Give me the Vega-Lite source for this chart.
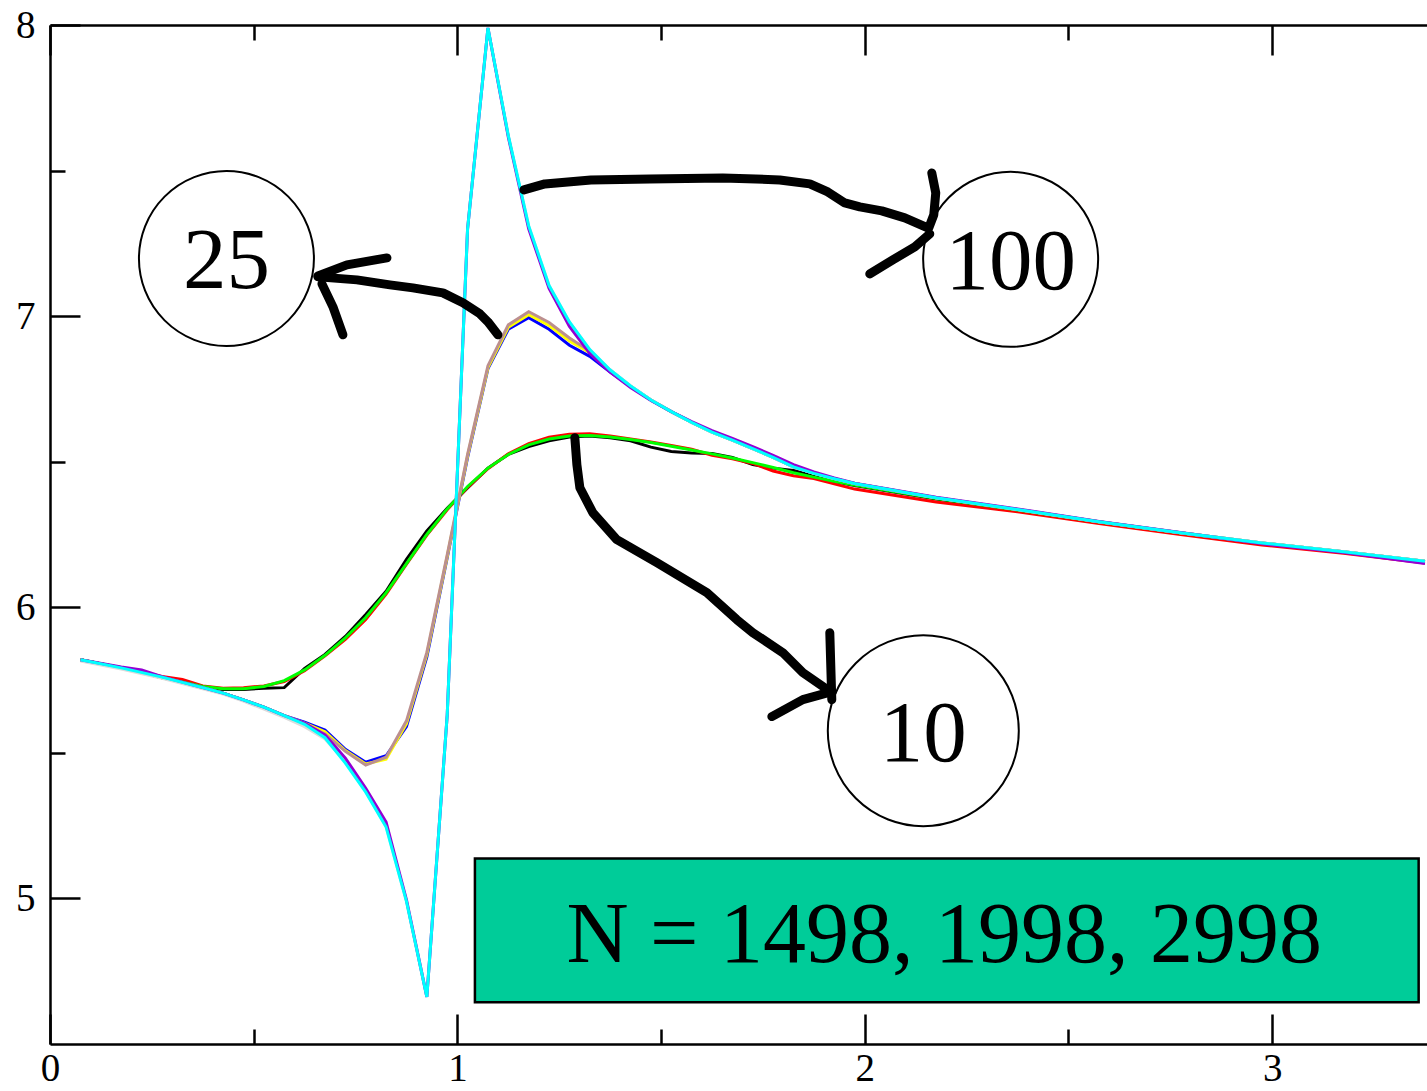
{
  "$schema": "https://vega.github.io/schema/vega-lite/v6.json",
  "width": 1377,
  "height": 1019,
  "autosize": {"type": "none"},
  "padding": {"left": 50, "top": 25, "right": 0, "bottom": 47},
  "background": "white",
  "config": {
    "view": {"stroke": null},
    "axis": {"domainColor": "black", "tickColor": "black", "labelColor": "black", "labelFont": "Liberation Serif", "labelFontSize": 39, "grid": false, "domainWidth": 2.5, "tickWidth": 2.5, "labelFlush": false, "labelOverlap": false, "labelBound": false}
  },
  "datasets": {
    "curves": [
      {"s":"010-1498","x":0.075,"y":5.82},{"s":"010-1498","x":0.175,"y":5.792},{"s":"010-1498","x":0.275,"y":5.758},{"s":"010-1498","x":0.375,"y":5.727},{"s":"010-1498","x":0.425,"y":5.718},{"s":"010-1498","x":0.475,"y":5.718},{"s":"010-1498","x":0.525,"y":5.722},{"s":"010-1498","x":0.575,"y":5.724},{"s":"010-1498","x":0.625,"y":5.79},{"s":"010-1498","x":0.675,"y":5.838},{"s":"010-1498","x":0.725,"y":5.9},{"s":"010-1498","x":0.775,"y":5.975},{"s":"010-1498","x":0.825,"y":6.055},{"s":"010-1498","x":0.875,"y":6.165},{"s":"010-1498","x":0.925,"y":6.262},{"s":"010-1498","x":0.975,"y":6.34},{"s":"010-1498","x":1.025,"y":6.41},{"s":"010-1498","x":1.075,"y":6.478},{"s":"010-1498","x":1.125,"y":6.525},{"s":"010-1498","x":1.175,"y":6.552},{"s":"010-1498","x":1.225,"y":6.572},{"s":"010-1498","x":1.275,"y":6.585},{"s":"010-1498","x":1.325,"y":6.588},{"s":"010-1498","x":1.375,"y":6.582},{"s":"010-1498","x":1.425,"y":6.572},{"s":"010-1498","x":1.475,"y":6.55},{"s":"010-1498","x":1.525,"y":6.535},{"s":"010-1498","x":1.575,"y":6.53},{"s":"010-1498","x":1.625,"y":6.528},{"s":"010-1498","x":1.675,"y":6.515},{"s":"010-1498","x":1.725,"y":6.49},{"s":"010-1498","x":1.775,"y":6.478},{"s":"010-1498","x":1.825,"y":6.47},{"s":"010-1498","x":1.875,"y":6.45},{"s":"010-1498","x":1.925,"y":6.432},{"s":"010-1498","x":1.975,"y":6.418},{"s":"010-1498","x":2.175,"y":6.372},{"s":"010-1498","x":2.375,"y":6.333},{"s":"010-1498","x":2.575,"y":6.292},{"s":"010-1498","x":2.775,"y":6.254},{"s":"010-1498","x":2.975,"y":6.219},{"s":"010-1498","x":3.175,"y":6.19},{"s":"010-1498","x":3.375,"y":6.156},

      {"s":"010-1998","x":0.075,"y":5.82},{"s":"010-1998","x":0.175,"y":5.792},{"s":"010-1998","x":0.275,"y":5.762},{"s":"010-1998","x":0.325,"y":5.752},{"s":"010-1998","x":0.375,"y":5.73},{"s":"010-1998","x":0.425,"y":5.722},{"s":"010-1998","x":0.475,"y":5.724},{"s":"010-1998","x":0.525,"y":5.73},{"s":"010-1998","x":0.575,"y":5.745},{"s":"010-1998","x":0.625,"y":5.782},{"s":"010-1998","x":0.675,"y":5.833},{"s":"010-1998","x":0.725,"y":5.89},{"s":"010-1998","x":0.775,"y":5.958},{"s":"010-1998","x":0.825,"y":6.045},{"s":"010-1998","x":0.875,"y":6.148},{"s":"010-1998","x":0.925,"y":6.248},{"s":"010-1998","x":0.975,"y":6.335},{"s":"010-1998","x":1.025,"y":6.412},{"s":"010-1998","x":1.075,"y":6.476},{"s":"010-1998","x":1.125,"y":6.527},{"s":"010-1998","x":1.175,"y":6.562},{"s":"010-1998","x":1.225,"y":6.584},{"s":"010-1998","x":1.275,"y":6.594},{"s":"010-1998","x":1.325,"y":6.596},{"s":"010-1998","x":1.375,"y":6.588},{"s":"010-1998","x":1.425,"y":6.578},{"s":"010-1998","x":1.475,"y":6.568},{"s":"010-1998","x":1.525,"y":6.556},{"s":"010-1998","x":1.575,"y":6.543},{"s":"010-1998","x":1.625,"y":6.522},{"s":"010-1998","x":1.675,"y":6.51},{"s":"010-1998","x":1.725,"y":6.494},{"s":"010-1998","x":1.775,"y":6.468},{"s":"010-1998","x":1.825,"y":6.452},{"s":"010-1998","x":1.875,"y":6.442},{"s":"010-1998","x":1.925,"y":6.424},{"s":"010-1998","x":1.975,"y":6.406},{"s":"010-1998","x":2.175,"y":6.362},{"s":"010-1998","x":2.375,"y":6.328},{"s":"010-1998","x":2.575,"y":6.288},{"s":"010-1998","x":2.775,"y":6.25},{"s":"010-1998","x":2.975,"y":6.214},{"s":"010-1998","x":3.175,"y":6.186},{"s":"010-1998","x":3.375,"y":6.152},

      {"s":"010-2998","x":0.075,"y":5.82},{"s":"010-2998","x":0.175,"y":5.792},{"s":"010-2998","x":0.275,"y":5.758},{"s":"010-2998","x":0.375,"y":5.728},{"s":"010-2998","x":0.425,"y":5.72},{"s":"010-2998","x":0.475,"y":5.72},{"s":"010-2998","x":0.525,"y":5.728},{"s":"010-2998","x":0.575,"y":5.748},{"s":"010-2998","x":0.625,"y":5.785},{"s":"010-2998","x":0.675,"y":5.835},{"s":"010-2998","x":0.725,"y":5.895},{"s":"010-2998","x":0.775,"y":5.965},{"s":"010-2998","x":0.825,"y":6.05},{"s":"010-2998","x":0.875,"y":6.15},{"s":"010-2998","x":0.925,"y":6.25},{"s":"010-2998","x":0.975,"y":6.338},{"s":"010-2998","x":1.025,"y":6.415},{"s":"010-2998","x":1.075,"y":6.478},{"s":"010-2998","x":1.125,"y":6.525},{"s":"010-2998","x":1.175,"y":6.558},{"s":"010-2998","x":1.225,"y":6.578},{"s":"010-2998","x":1.275,"y":6.588},{"s":"010-2998","x":1.325,"y":6.59},{"s":"010-2998","x":1.375,"y":6.585},{"s":"010-2998","x":1.425,"y":6.576},{"s":"010-2998","x":1.475,"y":6.566},{"s":"010-2998","x":1.525,"y":6.553},{"s":"010-2998","x":1.575,"y":6.54},{"s":"010-2998","x":1.625,"y":6.527},{"s":"010-2998","x":1.675,"y":6.513},{"s":"010-2998","x":1.725,"y":6.497},{"s":"010-2998","x":1.775,"y":6.48},{"s":"010-2998","x":1.825,"y":6.462},{"s":"010-2998","x":1.875,"y":6.447},{"s":"010-2998","x":1.925,"y":6.433},{"s":"010-2998","x":1.975,"y":6.42},{"s":"010-2998","x":2.175,"y":6.374},{"s":"010-2998","x":2.375,"y":6.334},{"s":"010-2998","x":2.575,"y":6.293},{"s":"010-2998","x":2.775,"y":6.255},{"s":"010-2998","x":2.975,"y":6.22},{"s":"010-2998","x":3.175,"y":6.19},{"s":"010-2998","x":3.375,"y":6.157},

      {"s":"025-1498","x":0.075,"y":5.82},{"s":"025-1498","x":0.175,"y":5.792},{"s":"025-1498","x":0.275,"y":5.76},{"s":"025-1498","x":0.375,"y":5.724},{"s":"025-1498","x":0.425,"y":5.705},{"s":"025-1498","x":0.475,"y":5.682},{"s":"025-1498","x":0.525,"y":5.657},{"s":"025-1498","x":0.575,"y":5.628},{"s":"025-1498","x":0.625,"y":5.605},{"s":"025-1498","x":0.675,"y":5.578},{"s":"025-1498","x":0.725,"y":5.512},{"s":"025-1498","x":0.775,"y":5.468},{"s":"025-1498","x":0.825,"y":5.49},{"s":"025-1498","x":0.875,"y":5.59},{"s":"025-1498","x":0.925,"y":5.83},{"s":"025-1498","x":0.975,"y":6.17},{"s":"025-1498","x":1.025,"y":6.515},{"s":"025-1498","x":1.075,"y":6.82},{"s":"025-1498","x":1.125,"y":6.955},{"s":"025-1498","x":1.175,"y":6.995},{"s":"025-1498","x":1.225,"y":6.955},{"s":"025-1498","x":1.275,"y":6.9},{"s":"025-1498","x":1.325,"y":6.862},{"s":"025-1498","x":1.375,"y":6.808},{"s":"025-1498","x":1.425,"y":6.758},{"s":"025-1498","x":1.475,"y":6.712},{"s":"025-1498","x":1.525,"y":6.672},{"s":"025-1498","x":1.575,"y":6.635},{"s":"025-1498","x":1.625,"y":6.602},{"s":"025-1498","x":1.675,"y":6.574},{"s":"025-1498","x":1.725,"y":6.545},{"s":"025-1498","x":1.775,"y":6.515},{"s":"025-1498","x":1.825,"y":6.482},{"s":"025-1498","x":1.875,"y":6.46},{"s":"025-1498","x":1.925,"y":6.442},{"s":"025-1498","x":1.975,"y":6.425},{"s":"025-1498","x":2.175,"y":6.376},{"s":"025-1498","x":2.375,"y":6.336},{"s":"025-1498","x":2.575,"y":6.294},{"s":"025-1498","x":2.775,"y":6.256},{"s":"025-1498","x":2.975,"y":6.221},{"s":"025-1498","x":3.175,"y":6.191},{"s":"025-1498","x":3.375,"y":6.158},

      {"s":"025-1998","x":0.075,"y":5.82},{"s":"025-1998","x":0.175,"y":5.792},{"s":"025-1998","x":0.275,"y":5.76},{"s":"025-1998","x":0.375,"y":5.724},{"s":"025-1998","x":0.425,"y":5.705},{"s":"025-1998","x":0.475,"y":5.682},{"s":"025-1998","x":0.525,"y":5.657},{"s":"025-1998","x":0.575,"y":5.628},{"s":"025-1998","x":0.625,"y":5.602},{"s":"025-1998","x":0.675,"y":5.572},{"s":"025-1998","x":0.725,"y":5.508},{"s":"025-1998","x":0.775,"y":5.462},{"s":"025-1998","x":0.825,"y":5.478},{"s":"025-1998","x":0.875,"y":5.6},{"s":"025-1998","x":0.925,"y":5.838},{"s":"025-1998","x":0.975,"y":6.175},{"s":"025-1998","x":1.025,"y":6.52},{"s":"025-1998","x":1.075,"y":6.823},{"s":"025-1998","x":1.125,"y":6.962},{"s":"025-1998","x":1.175,"y":7.005},{"s":"025-1998","x":1.225,"y":6.968},{"s":"025-1998","x":1.275,"y":6.915},{"s":"025-1998","x":1.325,"y":6.874},{"s":"025-1998","x":1.375,"y":6.812},{"s":"025-1998","x":1.425,"y":6.758},{"s":"025-1998","x":1.475,"y":6.712},{"s":"025-1998","x":1.525,"y":6.672},{"s":"025-1998","x":1.575,"y":6.635},{"s":"025-1998","x":1.625,"y":6.602},{"s":"025-1998","x":1.675,"y":6.574},{"s":"025-1998","x":1.725,"y":6.545},{"s":"025-1998","x":1.775,"y":6.515},{"s":"025-1998","x":1.825,"y":6.482},{"s":"025-1998","x":1.875,"y":6.46},{"s":"025-1998","x":1.925,"y":6.442},{"s":"025-1998","x":1.975,"y":6.425},{"s":"025-1998","x":2.175,"y":6.376},{"s":"025-1998","x":2.375,"y":6.336},{"s":"025-1998","x":2.575,"y":6.294},{"s":"025-1998","x":2.775,"y":6.256},{"s":"025-1998","x":2.975,"y":6.221},{"s":"025-1998","x":3.175,"y":6.191},{"s":"025-1998","x":3.375,"y":6.158},

      {"s":"025-2998","x":0.075,"y":5.82},{"s":"025-2998","x":0.175,"y":5.792},{"s":"025-2998","x":0.275,"y":5.76},{"s":"025-2998","x":0.375,"y":5.724},{"s":"025-2998","x":0.425,"y":5.705},{"s":"025-2998","x":0.475,"y":5.682},{"s":"025-2998","x":0.525,"y":5.657},{"s":"025-2998","x":0.575,"y":5.628},{"s":"025-2998","x":0.625,"y":5.598},{"s":"025-2998","x":0.675,"y":5.565},{"s":"025-2998","x":0.725,"y":5.505},{"s":"025-2998","x":0.775,"y":5.458},{"s":"025-2998","x":0.825,"y":5.485},{"s":"025-2998","x":0.875,"y":5.61},{"s":"025-2998","x":0.925,"y":5.845},{"s":"025-2998","x":0.975,"y":6.18},{"s":"025-2998","x":1.025,"y":6.525},{"s":"025-2998","x":1.075,"y":6.83},{"s":"025-2998","x":1.125,"y":6.97},{"s":"025-2998","x":1.175,"y":7.015},{"s":"025-2998","x":1.225,"y":6.978},{"s":"025-2998","x":1.275,"y":6.925},{"s":"025-2998","x":1.325,"y":6.88},{"s":"025-2998","x":1.375,"y":6.815},{"s":"025-2998","x":1.425,"y":6.76},{"s":"025-2998","x":1.475,"y":6.712},{"s":"025-2998","x":1.525,"y":6.672},{"s":"025-2998","x":1.575,"y":6.635},{"s":"025-2998","x":1.625,"y":6.602},{"s":"025-2998","x":1.675,"y":6.574},{"s":"025-2998","x":1.725,"y":6.545},{"s":"025-2998","x":1.775,"y":6.515},{"s":"025-2998","x":1.825,"y":6.482},{"s":"025-2998","x":1.875,"y":6.46},{"s":"025-2998","x":1.925,"y":6.442},{"s":"025-2998","x":1.975,"y":6.425},{"s":"025-2998","x":2.175,"y":6.376},{"s":"025-2998","x":2.375,"y":6.336},{"s":"025-2998","x":2.575,"y":6.294},{"s":"025-2998","x":2.775,"y":6.256},{"s":"025-2998","x":2.975,"y":6.221},{"s":"025-2998","x":3.175,"y":6.191},{"s":"025-2998","x":3.375,"y":6.158},

      {"s":"100-1498","x":0.075,"y":5.815},{"s":"100-1498","x":0.175,"y":5.788},{"s":"100-1498","x":0.275,"y":5.756},{"s":"100-1498","x":0.375,"y":5.72},{"s":"100-1498","x":0.425,"y":5.702},{"s":"100-1498","x":0.475,"y":5.678},{"s":"100-1498","x":0.525,"y":5.65},{"s":"100-1498","x":0.575,"y":5.622},{"s":"100-1498","x":0.625,"y":5.59},{"s":"100-1498","x":0.675,"y":5.548},{"s":"100-1498","x":0.725,"y":5.47},{"s":"100-1498","x":0.775,"y":5.368},{"s":"100-1498","x":0.825,"y":5.248},{"s":"100-1498","x":0.875,"y":4.99},{"s":"100-1498","x":0.925,"y":4.662},{"s":"100-1498","x":0.975,"y":5.63},{"s":"100-1498","x":1.025,"y":7.3},{"s":"100-1498","x":1.075,"y":7.99},{"s":"100-1498","x":1.125,"y":7.62},{"s":"100-1498","x":1.175,"y":7.31},{"s":"100-1498","x":1.225,"y":7.105},{"s":"100-1498","x":1.275,"y":6.98},{"s":"100-1498","x":1.325,"y":6.885},{"s":"100-1498","x":1.375,"y":6.815},{"s":"100-1498","x":1.425,"y":6.76},{"s":"100-1498","x":1.475,"y":6.712},{"s":"100-1498","x":1.525,"y":6.672},{"s":"100-1498","x":1.575,"y":6.635},{"s":"100-1498","x":1.625,"y":6.602},{"s":"100-1498","x":1.675,"y":6.574},{"s":"100-1498","x":1.725,"y":6.545},{"s":"100-1498","x":1.775,"y":6.515},{"s":"100-1498","x":1.825,"y":6.482},{"s":"100-1498","x":1.875,"y":6.46},{"s":"100-1498","x":1.925,"y":6.442},{"s":"100-1498","x":1.975,"y":6.425},{"s":"100-1498","x":2.175,"y":6.376},{"s":"100-1498","x":2.375,"y":6.336},{"s":"100-1498","x":2.575,"y":6.294},{"s":"100-1498","x":2.775,"y":6.256},{"s":"100-1498","x":2.975,"y":6.221},{"s":"100-1498","x":3.175,"y":6.191},{"s":"100-1498","x":3.375,"y":6.158},

      {"s":"100-1998","x":0.075,"y":5.82},{"s":"100-1998","x":0.175,"y":5.795},{"s":"100-1998","x":0.225,"y":5.785},{"s":"100-1998","x":0.275,"y":5.762},{"s":"100-1998","x":0.375,"y":5.724},{"s":"100-1998","x":0.425,"y":5.705},{"s":"100-1998","x":0.475,"y":5.682},{"s":"100-1998","x":0.525,"y":5.657},{"s":"100-1998","x":0.575,"y":5.628},{"s":"100-1998","x":0.625,"y":5.602},{"s":"100-1998","x":0.675,"y":5.562},{"s":"100-1998","x":0.725,"y":5.482},{"s":"100-1998","x":0.775,"y":5.378},{"s":"100-1998","x":0.825,"y":5.262},{"s":"100-1998","x":0.875,"y":4.995},{"s":"100-1998","x":0.925,"y":4.662},{"s":"100-1998","x":0.975,"y":5.63},{"s":"100-1998","x":1.025,"y":7.3},{"s":"100-1998","x":1.075,"y":7.99},{"s":"100-1998","x":1.125,"y":7.615},{"s":"100-1998","x":1.175,"y":7.3},{"s":"100-1998","x":1.225,"y":7.095},{"s":"100-1998","x":1.275,"y":6.965},{"s":"100-1998","x":1.325,"y":6.872},{"s":"100-1998","x":1.375,"y":6.808},{"s":"100-1998","x":1.425,"y":6.755},{"s":"100-1998","x":1.475,"y":6.71},{"s":"100-1998","x":1.525,"y":6.672},{"s":"100-1998","x":1.575,"y":6.638},{"s":"100-1998","x":1.625,"y":6.607},{"s":"100-1998","x":1.675,"y":6.58},{"s":"100-1998","x":1.725,"y":6.552},{"s":"100-1998","x":1.775,"y":6.522},{"s":"100-1998","x":1.825,"y":6.49},{"s":"100-1998","x":1.875,"y":6.465},{"s":"100-1998","x":1.925,"y":6.444},{"s":"100-1998","x":1.975,"y":6.426},{"s":"100-1998","x":2.175,"y":6.378},{"s":"100-1998","x":2.375,"y":6.338},{"s":"100-1998","x":2.575,"y":6.295},{"s":"100-1998","x":2.775,"y":6.257},{"s":"100-1998","x":2.975,"y":6.218},{"s":"100-1998","x":3.175,"y":6.188},{"s":"100-1998","x":3.375,"y":6.15},

      {"s":"100-2998","x":0.075,"y":5.82},{"s":"100-2998","x":0.175,"y":5.792},{"s":"100-2998","x":0.275,"y":5.76},{"s":"100-2998","x":0.375,"y":5.724},{"s":"100-2998","x":0.425,"y":5.705},{"s":"100-2998","x":0.475,"y":5.682},{"s":"100-2998","x":0.525,"y":5.657},{"s":"100-2998","x":0.575,"y":5.628},{"s":"100-2998","x":0.625,"y":5.598},{"s":"100-2998","x":0.675,"y":5.552},{"s":"100-2998","x":0.725,"y":5.465},{"s":"100-2998","x":0.775,"y":5.365},{"s":"100-2998","x":0.825,"y":5.245},{"s":"100-2998","x":0.875,"y":4.99},{"s":"100-2998","x":0.925,"y":4.662},{"s":"100-2998","x":0.975,"y":5.63},{"s":"100-2998","x":1.025,"y":7.3},{"s":"100-2998","x":1.075,"y":7.99},{"s":"100-2998","x":1.125,"y":7.62},{"s":"100-2998","x":1.175,"y":7.31},{"s":"100-2998","x":1.225,"y":7.105},{"s":"100-2998","x":1.275,"y":6.98},{"s":"100-2998","x":1.325,"y":6.885},{"s":"100-2998","x":1.375,"y":6.815},{"s":"100-2998","x":1.425,"y":6.76},{"s":"100-2998","x":1.475,"y":6.712},{"s":"100-2998","x":1.525,"y":6.672},{"s":"100-2998","x":1.575,"y":6.635},{"s":"100-2998","x":1.625,"y":6.602},{"s":"100-2998","x":1.675,"y":6.574},{"s":"100-2998","x":1.725,"y":6.545},{"s":"100-2998","x":1.775,"y":6.515},{"s":"100-2998","x":1.825,"y":6.482},{"s":"100-2998","x":1.875,"y":6.46},{"s":"100-2998","x":1.925,"y":6.442},{"s":"100-2998","x":1.975,"y":6.425},{"s":"100-2998","x":2.175,"y":6.376},{"s":"100-2998","x":2.375,"y":6.336},{"s":"100-2998","x":2.575,"y":6.294},{"s":"100-2998","x":2.775,"y":6.256},{"s":"100-2998","x":2.975,"y":6.221},{"s":"100-2998","x":3.175,"y":6.191},{"s":"100-2998","x":3.375,"y":6.158}
    ],
    "arrows": [
      {"a":"100","k":1,"x":1.1632,"y":7.4336},{"a":"100","k":2,"x":1.2147,"y":7.4542},{"a":"100","k":3,"x":1.3276,"y":7.4679},{"a":"100","k":4,"x":1.4724,"y":7.4713},{"a":"100","k":5,"x":1.6515,"y":7.4748},{"a":"100","k":6,"x":1.7914,"y":7.4679},{"a":"100","k":7,"x":1.865,"y":7.4542},{"a":"100","k":8,"x":1.9092,"y":7.4267},{"a":"100","k":9,"x":1.9509,"y":7.3889},{"a":"100","k":10,"x":1.9877,"y":7.3752},{"a":"100","k":11,"x":2.0417,"y":7.3615},{"a":"100","k":12,"x":2.0982,"y":7.3374},{"a":"100","k":13,"x":2.1546,"y":7.3031},
      {"a":"100h1","k":1,"x":2.1644,"y":7.4919},{"a":"100h1","k":2,"x":2.1742,"y":7.4233},{"a":"100h1","k":3,"x":2.1693,"y":7.3477},{"a":"100h1","k":4,"x":2.1571,"y":7.3031},
      {"a":"100h2","k":1,"x":2.1595,"y":7.2825},{"a":"100h2","k":2,"x":2.1227,"y":7.2379},{"a":"100h2","k":3,"x":2.0687,"y":7.1933},{"a":"100h2","k":4,"x":2.0123,"y":7.1452},
      {"a":"25","k":1,"x":1.0994,"y":6.9358},{"a":"25","k":2,"x":1.0748,"y":6.9804},{"a":"25","k":3,"x":1.0552,"y":7.0079},{"a":"25","k":4,"x":1.0135,"y":7.0457},{"a":"25","k":5,"x":0.9644,"y":7.08},{"a":"25","k":6,"x":0.8908,"y":7.0971},{"a":"25","k":7,"x":0.8344,"y":7.1074},{"a":"25","k":8,"x":0.7534,"y":7.1246},{"a":"25","k":9,"x":0.6577,"y":7.1349},
      {"a":"25h1","k":1,"x":0.6577,"y":7.1383},{"a":"25h1","k":2,"x":0.7288,"y":7.1761},{"a":"25h1","k":3,"x":0.827,"y":7.2001},
      {"a":"25h2","k":1,"x":0.6675,"y":7.1109},{"a":"25h2","k":2,"x":0.6945,"y":7.0319},{"a":"25h2","k":3,"x":0.719,"y":6.9358},
      {"a":"10","k":1,"x":1.2883,"y":6.5822},{"a":"10","k":2,"x":1.2933,"y":6.4895},{"a":"10","k":3,"x":1.3006,"y":6.4106},{"a":"10","k":4,"x":1.3325,"y":6.3247},{"a":"10","k":5,"x":1.3914,"y":6.2321},{"a":"10","k":6,"x":1.4896,"y":6.1531},{"a":"10","k":7,"x":1.6123,"y":6.0501},{"a":"10","k":8,"x":1.6859,"y":5.9574},{"a":"10","k":9,"x":1.7252,"y":5.9128},{"a":"10","k":10,"x":1.7988,"y":5.8442},{"a":"10","k":11,"x":1.8479,"y":5.7755},{"a":"10","k":12,"x":1.919,"y":5.7068},
      {"a":"10h1","k":1,"x":1.9141,"y":5.9128},{"a":"10h1","k":2,"x":1.919,"y":5.6828},
      {"a":"10h2","k":1,"x":1.919,"y":5.7103},{"a":"10h2","k":2,"x":1.8479,"y":5.6828},{"a":"10h2","k":3,"x":1.7718,"y":5.6245}
    ],
    "circles": [
      {"label":"25","x":0.4331,"y":7.198},
      {"label":"100","x":2.358,"y":7.195},
      {"label":"10","x":2.1436,"y":5.576}
    ],
    "box": [
      {"x1":1.043,"x2":3.3595,"y1":4.643,"y2":5.137}
    ],
    "boxtext": [
      {"label":"N = 1498, 1998, 2998","x":2.195,"y":4.87}
    ]
  },
  "resolve": {"axis": {"x": "independent", "y": "independent"}},
  "layer": [
    {
      "data": {"name": "box"},
      "mark": {"type": "rect", "fill": "#00cc99", "stroke": "black", "strokeWidth": 2.5},
      "encoding": {
        "x": {"field": "x1", "type": "quantitative", "scale": {"domain": [0, 3.38], "nice": false, "zero": false},
              "axis": {"orient": "bottom", "values": [0, 1, 2, 3], "ticks": false, "labelPadding": 5, "title": null, "domain": true}},
        "x2": {"field": "x2"},
        "y": {"field": "y1", "type": "quantitative", "scale": {"domain": [4.5, 8], "nice": false, "zero": false},
              "axis": {"orient": "left", "values": [5, 6, 7, 8], "ticks": false, "labelPadding": 15, "title": null, "domain": true}},
        "y2": {"field": "y2"}
      }
    },
    {
      "data": {"name": "curves"},
      "mark": {"type": "line", "strokeWidth": 3, "clip": true},
      "encoding": {
        "x": {"field": "x", "type": "quantitative", "scale": {"domain": [0, 3.38], "nice": false, "zero": false},
              "axis": {"orient": "bottom", "values": [0, 1, 2, 3], "labels": false, "domain": false, "tickSize": -30, "title": null}},
        "y": {"field": "y", "type": "quantitative", "scale": {"domain": [4.5, 8], "nice": false, "zero": false},
              "axis": {"orient": "left", "values": [5, 6, 7, 8], "labels": false, "domain": false, "tickSize": -30, "title": null}},
        "color": {"field": "s", "type": "nominal",
                  "scale": {"domain": ["010-1498","010-1998","010-2998","025-1498","025-1998","025-2998","100-1498","100-1998","100-2998"],
                            "range": ["#000000","#ff0000","#00ff00","#0000ff","#ffff00","#bc8f8f","#dcdcdc","#9400d3","#00ffff"]},
                  "legend": null}
      }
    },
    {
      "data": {"name": "circles"},
      "mark": {"type": "point", "shape": "circle", "filled": false, "color": "black", "strokeWidth": 2, "opacity": 1},
      "encoding": {
        "x": {"field": "x", "type": "quantitative", "scale": {"domain": [0, 3.38], "nice": false, "zero": false},
              "axis": {"orient": "top", "values": [0, 1, 2, 3], "labels": false, "domain": true, "tickSize": -30, "title": null}},
        "y": {"field": "y", "type": "quantitative", "scale": {"domain": [4.5, 8], "nice": false, "zero": false}, "axis": null},
        "size": {"field": "label", "type": "nominal", "scale": {"type": "ordinal", "domain": ["25", "100", "10"], "range": [30625, 30625, 36481]}, "legend": null}
      }
    },
    {
      "data": {"name": "arrows"},
      "mark": {"type": "line", "color": "black", "strokeWidth": 9, "strokeCap": "round", "strokeJoin": "round"},
      "encoding": {
        "x": {"field": "x", "type": "quantitative", "scale": {"domain": [0, 3.38], "nice": false, "zero": false},
              "axis": {"orient": "top", "values": [0.5, 1.5, 2.5], "labels": false, "domain": false, "tickSize": -15, "title": null}},
        "y": {"field": "y", "type": "quantitative", "scale": {"domain": [4.5, 8], "nice": false, "zero": false},
              "axis": {"orient": "left", "values": [5.5, 6.5, 7.5], "labels": false, "domain": false, "tickSize": -15, "title": null}},
        "detail": {"field": "a"},
        "order": {"field": "k", "type": "quantitative"}
      }
    },
    {
      "data": {"name": "circles"},
      "mark": {"type": "text", "font": "Liberation Serif", "fontSize": 87, "baseline": "middle", "align": "center", "dy": 4, "color": "black"},
      "encoding": {
        "x": {"field": "x", "type": "quantitative", "scale": {"domain": [0, 3.38], "nice": false, "zero": false},
              "axis": {"orient": "bottom", "values": [0.5, 1.5, 2.5], "labels": false, "domain": false, "tickSize": -15, "title": null}},
        "y": {"field": "y", "type": "quantitative", "scale": {"domain": [4.5, 8], "nice": false, "zero": false}, "axis": null},
        "text": {"field": "label"}
      }
    },
    {
      "data": {"name": "boxtext"},
      "mark": {"type": "text", "font": "Liberation Serif", "fontSize": 86, "baseline": "middle", "align": "center", "color": "black"},
      "encoding": {
        "x": {"field": "x", "type": "quantitative", "scale": {"domain": [0, 3.38], "nice": false, "zero": false}, "axis": null},
        "y": {"field": "y", "type": "quantitative", "scale": {"domain": [4.5, 8], "nice": false, "zero": false}, "axis": null},
        "text": {"field": "label"}
      }
    }
  ]
}
